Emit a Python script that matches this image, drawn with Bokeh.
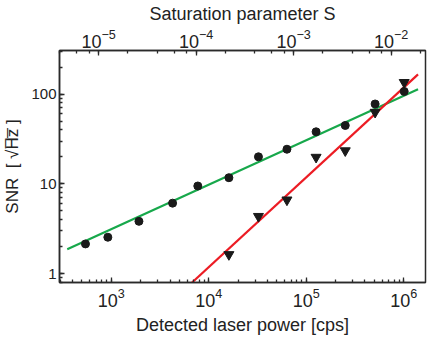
from bokeh.plotting import figure
from bokeh.models import Range1d, LogAxis, LogScale, PrintfTickFormatter
from bokeh.embed import file_html
from bokeh.resources import INLINE

# data
power_circ = [543, 921, 1920, 4250, 7710, 16070, 32300, 63300, 126000, 251000, 508000, 1010000]
snr_circ = [2.14, 2.54, 3.82, 6.09, 9.46, 11.7, 20.0, 24.3, 38.0, 44.7, 77.6, 107]
power_tri = [16070, 32300, 63300, 126000, 251000, 508000, 1010000]
snr_tri = [1.63, 4.34, 6.62, 19.8, 23.4, 62.8, 135]
green_fit_x = [353, 1.40e6]
green_fit_y = [1.86, 113.5]
red_fit_x = [6730, 1.40e6]
red_fit_y = [0.795, 166]
x_lim = [294, 1.67e6]
y_lim = [0.795, 306]
s_factor = 1.35e-8  # saturation parameter S per cps

FONT = "Liberation Sans"
AX = "#2a2a2a"
NB = "\u00a0"

p = figure(width=428, height=337, x_axis_type="log", y_axis_type="log",
           x_range=Range1d(*x_lim), y_range=Range1d(*y_lim),
           output_backend="svg", toolbar_location=None,
           min_border_left=49, min_border_right=3, min_border_top=44, min_border_bottom=52)
p.extra_x_ranges = {"S": Range1d(x_lim[0] * s_factor, x_lim[1] * s_factor)}
p.extra_x_scales = {"S": LogScale()}
top = LogAxis(x_range_name="S", axis_label="Saturation parameter S")
p.add_layout(top, "above")

bottom = p.below[0]
left = p.left[0]

p.grid.visible = False
p.outline_line_color = AX
p.outline_line_width = 1.5

for ax in [bottom, left, top]:
    ax.axis_line_color = AX
    ax.axis_line_width = 1.5
    ax.major_tick_line_color = AX
    ax.minor_tick_line_color = AX
    ax.major_tick_line_width = 1.3
    ax.minor_tick_line_width = 1.3
    ax.major_tick_in = 5
    ax.major_tick_out = 0
    ax.minor_tick_in = 3
    ax.minor_tick_out = 0
    ax.major_label_text_font = FONT
    ax.major_label_text_color = "#222222"
    ax.axis_label_text_font = FONT
    ax.axis_label_text_font_style = "normal"
    ax.axis_label_text_color = "#222222"
    ax.axis_label_text_font_size = "18px"
    ax.major_label_text_font_size = "18px"
    ax.axis_label_standoff = 2
    ax.major_label_standoff = 3

bottom.axis_label = "Detected laser power [cps]"
bottom.major_label_standoff = 5
bottom.axis_label_standoff = 5
left.axis_label = "SNR" + NB * 2 + "[" + NB + "\u221aH\u0305z\u0305" + NB + "]"
left.axis_label_text_font_size = "17px"
left.axis_label_standoff = 6
left.formatter = PrintfTickFormatter(format="%d")
left.major_label_text_font_size = "15px"

p.line(green_fit_x, green_fit_y, line_color="#17a84b", line_width=2.2)
p.line(red_fit_x, red_fit_y, line_color="#ec1c24", line_width=2.2)
p.scatter(power_circ, snr_circ, marker="circle", size=8, color="#1a1a1a")
p.scatter(power_tri, snr_tri, marker="inverted_triangle", size=10, color="#1a1a1a")

open("out.html", "w").write(file_html(p, INLINE))
